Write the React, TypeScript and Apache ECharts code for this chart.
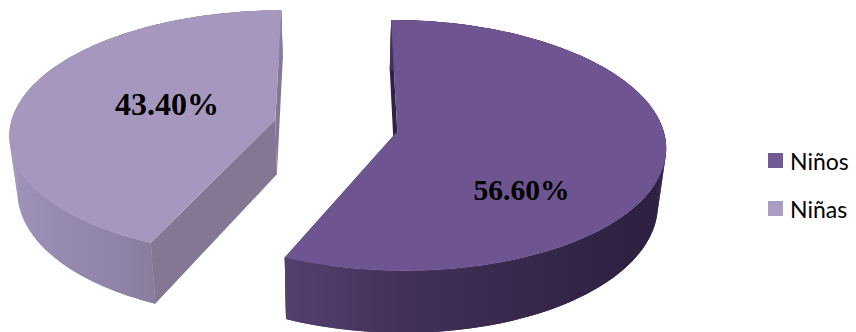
import React, { useEffect, useRef } from "react";
import * as echarts from "echarts";

// Sample shares, in percent, in the order the slices run clockwise from twelve o'clock.
const categories = ["Niños", "Niñas"];
const shares = [56.6, 43.4];

const topColors = ["#6E5490", "#A697BF"];
const legendColors = ["#735A96", "#AB9CC4"];
const radialWallColors = ["#2E2246", "#837794"];
// Shading of the curved wall, left to right across the page: [page x, colour].
const arcWallRamps: [number, string][][] = [
  [
    [286, "#54406F"],
    [400, "#43315A"],
    [520, "#38284C"],
    [667, "#2C1F3F"],
  ],
  [
    [10, "#A094BB"],
    [60, "#968AB0"],
    [150, "#8A7EA0"],
  ],
];
const labelSpots = [
  { x: 521.5, y: 190, size: 29.5 },
  { x: 167, y: 104, size: 32 },
];

// Perspective pie: plane coordinates (X right, Y toward the viewer) in pie radii.
const VANISH_X = 336;
const CENTER_Y = 125.5;
const SCALE_X = 265;
const SCALE_Y = 122.5;
const PERSPECTIVE = 0.11;
const EXPLODE = 0.235;
const DEPTH = 55;
const BASE_SHRINK = 0.975;

type Pt = [number, number];

function project(X: number, Y: number): Pt {
  const w = 1 - PERSPECTIVE * Y;
  return [VANISH_X + (SCALE_X * X) / w, CENTER_Y + (SCALE_Y * Y) / w];
}

function projectBase(X: number, Y: number): Pt {
  const w = 1 - PERSPECTIVE * Y;
  const [x, y] = project(X, Y);
  return [VANISH_X + (x - VANISH_X) * BASE_SHRINK, y + DEPTH / w];
}

function wallPoints(p: Pt, q: Pt): Pt[] {
  return [project(p[0], p[1]), project(q[0], q[1]), projectBase(q[0], q[1]), projectBase(p[0], p[1])];
}

function sliceElements(index: number, value: number) {
  const total = shares.reduce((a, b) => a + b, 0);
  const before = shares.slice(0, index).reduce((a, b) => a + b, 0);
  const start = (before / total) * Math.PI * 2;
  const sweep = (value / total) * Math.PI * 2;
  const mid = start + sweep / 2;
  const cx = EXPLODE * Math.sin(mid);
  const cy = -EXPLODE * Math.cos(mid);

  const steps = 120;
  const rim: Pt[] = [];
  for (let i = 0; i <= steps; i++) {
    const a = start + (sweep * i) / steps;
    rim.push([cx + Math.sin(a), cy - Math.cos(a)]);
  }

  const ramp = arcWallRamps[index];
  const x0 = ramp[0][0];
  const x1 = ramp[ramp.length - 1][0];
  const arcShade = new echarts.graphic.LinearGradient(
    x0,
    0,
    x1,
    0,
    ramp.map(([x, color]) => ({ offset: (x - x0) / (x1 - x0), color })),
    true
  );

  const hub: Pt = [cx, cy];
  const children: any[] = [
    { type: "polygon", shape: { points: wallPoints(hub, rim[0]) }, style: { fill: radialWallColors[index] } },
    { type: "polygon", shape: { points: wallPoints(hub, rim[steps]) }, style: { fill: radialWallColors[index] } },
  ];

  // Thin wall strips keep the outline straight where the rim turns back at the sides.
  for (let i = 0; i < steps; i++) {
    children.push({
      type: "polygon",
      shape: { points: wallPoints(rim[i], rim[i + 1]) },
      style: { fill: arcShade },
    });
  }
  // One solid band over the strips hides their seams.
  children.push({
    type: "polygon",
    shape: {
      points: [
        ...rim.map((p) => project(p[0], p[1])),
        ...rim.slice().reverse().map((p) => projectBase(p[0], p[1])),
      ],
    },
    style: { fill: arcShade },
  });
  children.push({
    type: "polygon",
    shape: { points: [project(cx, cy), ...rim.map((p) => project(p[0], p[1]))] },
    style: { fill: topColors[index] },
  });

  const spot = labelSpots[index];
  children.push({
    type: "text",
    x: spot.x,
    y: spot.y,
    style: {
      text: `${value.toFixed(2)}%`,
      fill: "#000000",
      font: `bold ${spot.size}px "Liberation Serif", serif`,
      textAlign: "center",
      textVerticalAlign: "middle",
    },
  });
  return { type: "group", children };
}

export default function App() {
  const ref = useRef<HTMLDivElement>(null);

  useEffect(() => {
    const chart = echarts.init(ref.current!, undefined, { renderer: "svg" });
    chart.setOption({
      animation: false,
      backgroundColor: "#ffffff",
      legend: {
        orient: "vertical",
        left: 763,
        top: 144,
        itemWidth: 15,
        itemHeight: 15,
        itemGap: 25,
        selectedMode: false,
        textStyle: { fontFamily: "Lato", fontSize: 23, color: "#000000", padding: [0, 0, 0, 2] },
        data: categories.map((name, i) => ({
          name,
          icon: "rect",
          itemStyle: { color: legendColors[i] },
        })),
      },
      series: categories.map((name, i) => ({
        type: "custom",
        name,
        coordinateSystem: "none",
        silent: true,
        itemStyle: { color: legendColors[i] },
        data: [shares[i]],
        renderItem: (_params: any, api: any) => sliceElements(i, api.value(0)),
      })),
    });
    return () => chart.dispose();
  }, []);

  return (
    <div
      ref={ref}
      style={{ position: "fixed", left: 0, top: 0, width: 856, height: 332 }}
    />
  );
}
